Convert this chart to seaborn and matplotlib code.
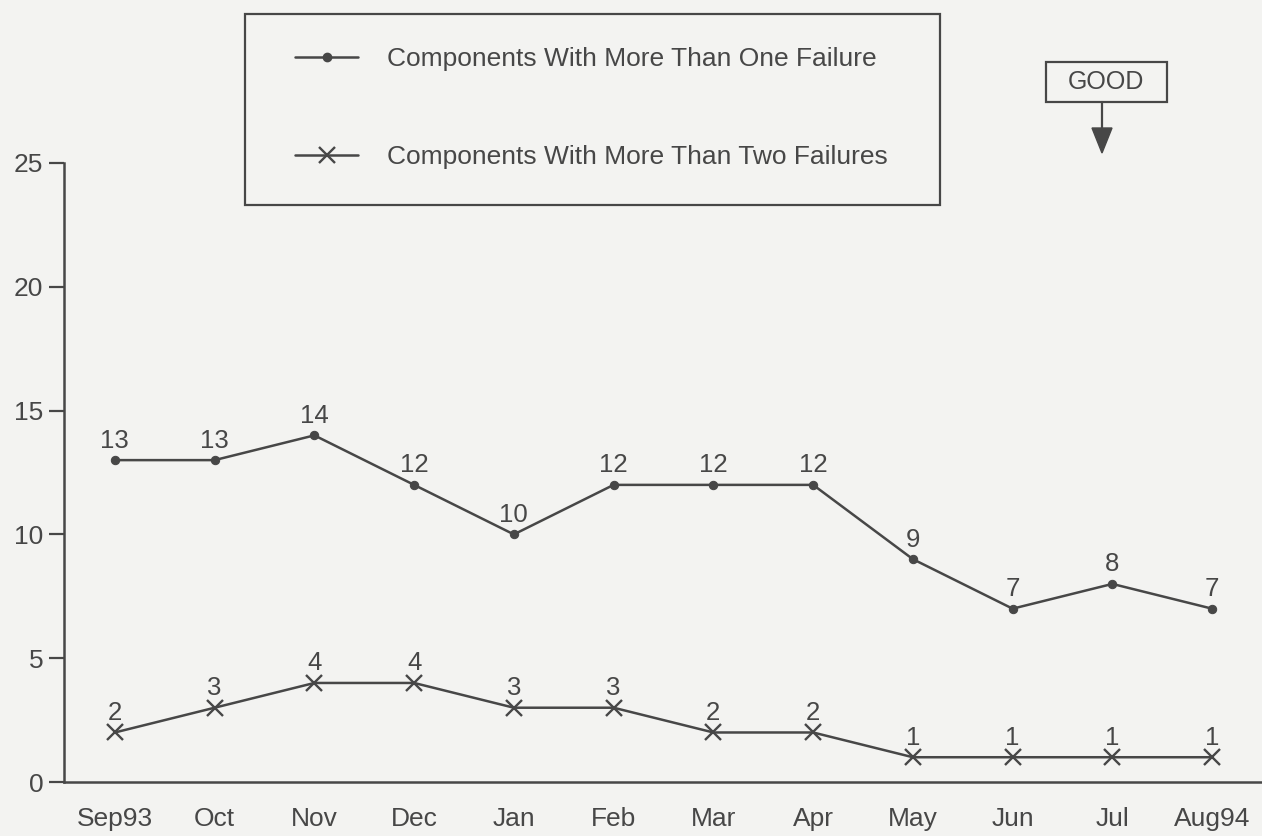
import matplotlib
matplotlib.use("Agg")
import matplotlib.pyplot as plt
import seaborn as sns
import pandas as pd
from matplotlib.lines import Line2D
from matplotlib.patches import Rectangle, Polygon

months = ["Sep93", "Oct", "Nov", "Dec", "Jan", "Feb", "Mar", "Apr", "May", "Jun", "Jul", "Aug94"]
more_than_one = [13, 13, 14, 12, 10, 12, 12, 12, 9, 7, 8, 7]
more_than_two = [2, 3, 4, 4, 3, 3, 2, 2, 1, 1, 1, 1]
label_one = "Components With More Than One Failure"
label_two = "Components With More Than Two Failures"
y_ticks = [0, 5, 10, 15, 20, 25]

sns.set_theme(style="white")
plt.rcParams["font.family"] = ["Liberation Sans", "DejaVu Sans"]

INK = "#474747"
BG = "#f3f3f1"
W, H = 1262, 836


def fx(px):
    return px / W


def fy(py):
    return 1 - py / H


df = pd.DataFrame({
    "idx": list(range(len(months))) * 2,
    "count": more_than_one + more_than_two,
    "series": [label_one] * len(months) + [label_two] * len(months),
})

fig = plt.figure(figsize=(W / 100, H / 100), dpi=100, facecolor=BG)
ax = fig.add_axes([fx(64), fy(782), 1 - fx(64), fy(163) - fy(782)])
ax.set_facecolor(BG)

one_style = dict(color=INK, lw=1.8, marker="o", markersize=6,
                 markeredgecolor=INK, markerfacecolor=INK)
two_style = dict(color=INK, lw=1.8, marker="x", markersize=12,
                 markeredgewidth=1.7, markeredgecolor=INK)

sns.lineplot(data=df[df.series == label_one], x="idx", y="count", ax=ax,
             legend=False, **one_style)
sns.lineplot(data=df[df.series == label_two], x="idx", y="count", ax=ax,
             legend=False, **two_style)

for series in (more_than_one, more_than_two):
    for i, v in enumerate(series):
        ax.annotate(str(v), (i, v), xytext=(0, 9), textcoords="offset points",
                    ha="center", va="baseline", fontsize=18.5, color=INK)

ax.set_xlim(-0.51, 11.5)
ax.set_ylim(0, 25)
ax.set_xticks(range(len(months)))
ax.set_xticklabels(months, fontsize=19, color=INK)
ax.set_yticks(y_ticks)
ax.set_yticklabels([str(t) for t in y_ticks], fontsize=19, color=INK)
ax.tick_params(axis="y", direction="out", length=11, width=1.6, color=INK, pad=4, left=True)
ax.tick_params(axis="x", length=0, pad=18)
ax.set_xlabel("")
ax.set_ylabel("")
for side in ["top", "right"]:
    ax.spines[side].set_visible(False)
for side in ["left", "bottom"]:
    ax.spines[side].set_color(INK)
    ax.spines[side].set_linewidth(1.8)

# Legend: framed box with the two series keys
fig.add_artist(Rectangle((fx(245), fy(205)), fx(940) - fx(245), fy(14) - fy(205),
                         transform=fig.transFigure, fill=False, ec=INK, lw=1.6))
handles = [Line2D([], [], **one_style), Line2D([], [], **two_style)]
leg = fig.legend(handles, [label_one, label_two], loc="upper left",
                 bbox_to_anchor=(fx(295), fy(47)), frameon=False, fontsize=19,
                 labelspacing=2.8, borderpad=0, handlelength=2.4,
                 handletextpad=1.1, borderaxespad=0)
for t in leg.get_texts():
    t.set_color(INK)

# "GOOD" direction indicator
fig.add_artist(Rectangle((fx(1046), fy(102)), fx(1167) - fx(1046), fy(62) - fy(102),
                         transform=fig.transFigure, fill=False, ec=INK, lw=1.6))
fig.text(fx(1106), fy(82), "GOOD", ha="center", va="center", fontsize=18, color=INK)
fig.add_artist(Line2D([fx(1102), fx(1102)], [fy(102), fy(130)], color=INK, lw=1.6,
                      transform=fig.transFigure))
fig.add_artist(Polygon([[fx(1092), fy(128)], [fx(1112), fy(128)], [fx(1102), fy(153)]],
                       closed=True, color=INK, transform=fig.transFigure))

fig.savefig("out.png", dpi=100, facecolor=BG)
